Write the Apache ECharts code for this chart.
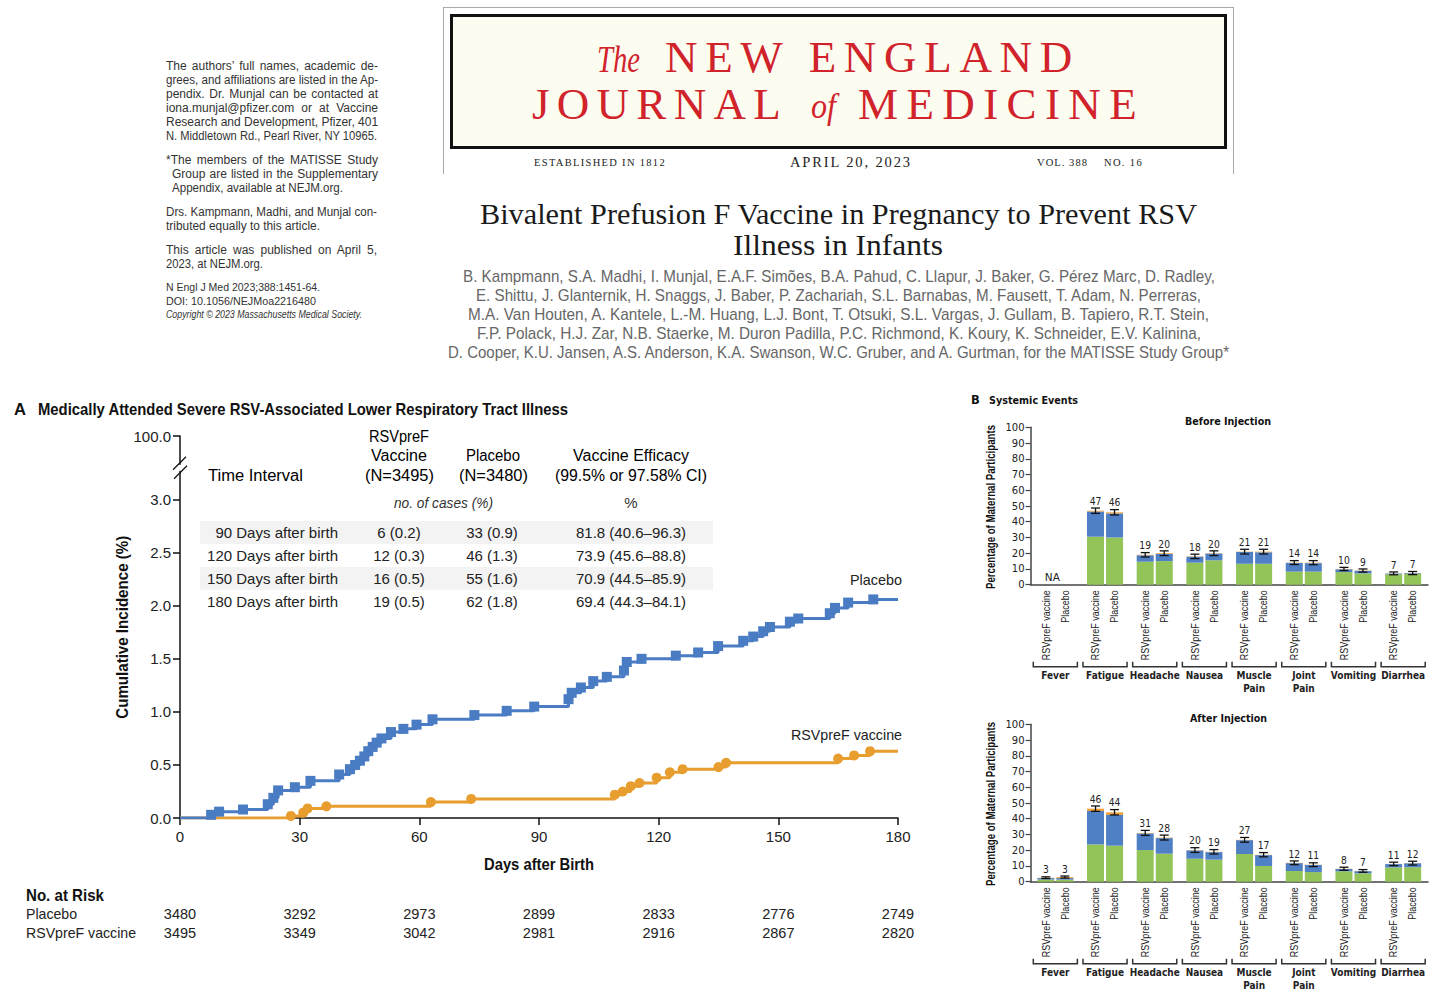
<!DOCTYPE html>
<html>
<head>
<meta charset="utf-8">
<title>RSVpreF vaccine in pregnancy – NEJM figure</title>
<script src="https://cdn.jsdelivr.net/npm/echarts@6.0.0/dist/echarts.min.js"></script>
<style>
html,body{margin:0;padding:0;background:#fff;}
body{width:1456px;height:1003px;position:relative;overflow:hidden;}
#chart{position:absolute;left:0;top:0;width:1456px;height:1003px;}
#overlay{position:absolute;left:0;top:0;width:1456px;height:1003px;pointer-events:none;}
.t{position:absolute;white-space:nowrap;line-height:1;}
.box{position:absolute;box-sizing:border-box;}
</style>
</head>
<body>
<div id="chart"></div>
<div id="overlay"></div>
<script>
// ================= DATA =================
// Panel A – Kaplan–Meier cumulative incidence (%) of severe MA-LRTI
const placeboDays = [0, 7.8, 9.8, 15.8, 22.0, 23.4, 24.6, 28.8, 32.7, 39.9, 42.6, 43.9, 45.1, 46.2, 47.2, 48.3, 49.3, 50.5, 52.9, 56.0, 59.3, 63.3, 73.8, 81.9, 88.8, 97.4, 98.2, 100.5, 103.6, 107.0, 111.3, 112.0, 115.7, 124.3, 129.9, 134.9, 141.2, 143.7, 146.2, 147.9, 152.9, 155.0, 162.9, 164.2, 167.5, 173.8, 180];
const placeboIncidence = [0, 0.03, 0.06, 0.08, 0.13, 0.19, 0.26, 0.29, 0.35, 0.41, 0.46, 0.50, 0.54, 0.58, 0.63, 0.67, 0.71, 0.75, 0.81, 0.84, 0.88, 0.93, 0.97, 1.01, 1.05, 1.12, 1.18, 1.23, 1.29, 1.33, 1.39, 1.47, 1.50, 1.53, 1.56, 1.62, 1.67, 1.71, 1.76, 1.80, 1.85, 1.88, 1.93, 1.98, 2.03, 2.06, 2.06];
const vaccineDays = [0, 27.8, 30.9, 32.0, 36.7, 62.9, 73.0, 109.0, 111.0, 113.0, 115.2, 119.5, 122.8, 126.0, 135.0, 136.9, 165.0, 169.0, 173.0, 180];
const vaccineIncidence = [0, 0.02, 0.05, 0.09, 0.11, 0.15, 0.18, 0.22, 0.25, 0.30, 0.33, 0.38, 0.43, 0.46, 0.48, 0.52, 0.56, 0.59, 0.63, 0.63];
const dayTicks = [0, 30, 60, 90, 120, 150, 180];
const incidenceTickValues = [0, 0.5, 1, 1.5, 2, 2.5, 3, 3.6];
const incidenceTickLabels = ['0.0', '0.5', '1.0', '1.5', '2.0', '2.5', '3.0', '100.0'];
const placeboAtRisk = [3480, 3292, 2973, 2899, 2833, 2776, 2749];
const vaccineAtRisk = [3495, 3349, 3042, 2981, 2916, 2867, 2820];
const tableIntervals = ['90 Days after birth', '120 Days after birth', '150 Days after birth', '180 Days after birth'];
const tableVaccineCases = ['6 (0.2)', '12 (0.3)', '16 (0.5)', '19 (0.5)'];
const tablePlaceboCases = ['33 (0.9)', '46 (1.3)', '55 (1.6)', '62 (1.8)'];
const tableEfficacy = ['81.8 (40.6–96.3)', '73.9 (45.6–88.8)', '70.9 (44.5–85.9)', '69.4 (44.3–84.1)'];

// Panel B – systemic events (% of maternal participants), mild / moderate / severe
const symptomGroups = ['Fever', 'Fatigue', 'Headache', 'Nausea', 'Muscle\nPain', 'Joint\nPain', 'Vomiting', 'Diarrhea'];
const armLabels = ['RSVpreF vaccine', 'Placebo'];
const beforeVaccineMild = [null, 30.5, 14.6, 14.0, 13.3, 8.3, 8.0, 6.6];
const beforeVaccineModerate = [null, 16.0, 4.1, 3.8, 7.5, 5.5, 1.8, 0.5];
const beforeVaccineSevere = [null, 0.5, 0.3, 0.2, 0.2, 0.2, 0.2, 0.1];
const beforePlaceboMild = [null, 30.0, 15.0, 15.5, 13.3, 8.3, 7.2, 6.8];
const beforePlaceboModerate = [null, 15.3, 4.5, 4.3, 7.3, 5.4, 1.6, 0.5];
const beforePlaceboSevere = [null, 0.7, 0.5, 0.2, 0.4, 0.3, 0.2, 0.1];
const beforeVaccineTotal = [null, 47, 19, 18, 21, 14, 10, 7];
const beforePlaceboTotal = [null, 46, 20, 20, 21, 14, 9, 7];
const beforeVaccineCI = [null, [45.3, 48.7], [17.6, 20.4], [16.6, 19.4], [19.5, 22.5], [12.8, 15.3], [9.0, 11.0], [6.3, 8.1]];
const beforePlaceboCI = [null, [44.3, 47.7], [18.5, 21.5], [18.5, 21.5], [19.5, 22.5], [12.7, 15.3], [8.0, 10.0], [6.4, 8.4]];

const afterVaccineMild = [1.4, 23.7, 20.1, 14.6, 17.6, 6.8, 6.6, 9.1];
const afterVaccineModerate = [0.9, 21.2, 10.6, 5.3, 8.8, 5.0, 1.5, 2.1];
const afterVaccineSevere = [0.2, 1.5, 0.3, 0.2, 0.2, 0.2, 0.1, 0.1];
const afterPlaceboMild = [1.3, 22.9, 17.8, 14.0, 10.0, 6.1, 5.3, 9.2];
const afterPlaceboModerate = [1.0, 19.5, 9.9, 4.8, 6.9, 4.5, 1.4, 2.5];
const afterPlaceboSevere = [0.6, 1.7, 0.3, 0.2, 0.2, 0.2, 0.1, 0.1];
const afterVaccineTotal = [3, 46, 31, 20, 27, 12, 8, 11];
const afterPlaceboTotal = [3, 44, 28, 19, 17, 11, 7, 12];
const afterVaccineCI = [[2.0, 3.1], [44.7, 48.1], [29.4, 32.6], [18.6, 21.6], [25.1, 28.1], [10.8, 13.2], [7.2, 9.2], [10.2, 12.4]];
const afterPlaceboCI = [[2.3, 3.6], [42.4, 45.8], [26.5, 29.6], [17.6, 20.4], [15.8, 18.5], [9.6, 12.0], [6.0, 7.7], [10.6, 13.0]];

// ================= STYLE =================
const SANS = '"Liberation Sans", Arial, sans-serif';
const SERIF = '"Liberation Serif", "Times New Roman", serif';
const DEJA = '"DejaVu Sans", Verdana, sans-serif';
const RED = '#d1232b';
const LINE_BLUE = '#4a7cc4';
const LINE_ORANGE = '#e89d2f';
const BAR_GREEN = '#92c457';
const BAR_BLUE = '#4f7fc4';
const BAR_ORANGE = '#efa13a';

// ================= CHART =================
const chart = echarts.init(document.getElementById('chart'), null, { renderer: 'svg', width: 1456, height: 1003 });

function kmData(days, inc) {
  return days.map((d, i) => {
    const item = { value: [d, inc[i]] };
    if (i === 0 || i === days.length - 1) item.symbol = 'none';
    return item;
  });
}

function barStack(grid, key, mild, moderate, severe) {
  const mk = (vals, color) => ({
    type: 'bar', xAxisIndex: grid, yAxisIndex: grid, stack: key, data: vals,
    barWidth: 17, barGap: '12%', itemStyle: { color }, silent: true
  });
  return [mk(mild, BAR_GREEN), mk(moderate, BAR_BLUE), mk(severe, BAR_ORANGE)];
}

function errorSeries(grid, vTot, pTot, vCI, pCI) {
  const data = [];
  symptomGroups.forEach((g, i) => {
    if (vTot[i] == null) data.push([i, 0, 0, 'NA', -1]);
    else data.push([i, vCI[i][0], vCI[i][1], String(vTot[i]), -1]);
    if (pTot[i] != null) data.push([i, pCI[i][0], pCI[i][1], String(pTot[i]), 1]);
  });
  return {
    type: 'custom', xAxisIndex: grid, yAxisIndex: grid, clip: false, silent: true, z: 10,
    encode: { x: 0, y: [1, 2] },
    data: data.map(d => [d[0], d[1], d[2]]),
    renderItem(params, api) {
      const it = data[params.dataIndex];
      const base = api.coord([it[0], 0]);
      const x = base[0] + it[4] * 9.5;
      if (it[3] === 'NA') {
        return { type: 'text', x: base[0] - 3, y: base[1] - 2,
          style: { text: 'NA', align: 'center', verticalAlign: 'bottom', fontSize: 10.5, fontFamily: DEJA, fill: '#222' } };
      }
      const yLo = api.coord([it[0], it[1]])[1];
      const yHi = api.coord([it[0], it[2]])[1];
      const st = { stroke: '#111', lineWidth: 1.3 };
      return { type: 'group', children: [
        { type: 'line', shape: { x1: x, y1: yLo, x2: x, y2: yHi }, style: st },
        { type: 'line', shape: { x1: x - 4.5, y1: yLo, x2: x + 4.5, y2: yLo }, style: st },
        { type: 'line', shape: { x1: x - 4.5, y1: yHi, x2: x + 4.5, y2: yHi }, style: st },
        { type: 'text', x: x, y: yHi - 2, scaleX: 0.92,
          style: { text: it[3], align: 'center', verticalAlign: 'bottom', fontSize: 10, fontFamily: DEJA, fill: '#222' } }
      ] };
    }
  };
}

function decoSeries(grid) {
  return {
    type: 'custom', xAxisIndex: grid, yAxisIndex: grid, clip: false, silent: true, z: 10,
    encode: { x: 0, y: 1 },
    data: symptomGroups.map((g, i) => [i, 0]),
    renderItem(params, api) {
      const i = params.dataIndex;
      const p = api.coord([i, 0]);
      const bw = api.size([1, 0])[0];
      const cx = p[0], y0 = p[1];
      const ch = [];
      armLabels.forEach((lab, k) => {
        ch.push({ type: 'text', x: cx + (k ? 9.5 : -9.5), y: y0 + 5.5, rotation: Math.PI / 2, scaleX: 0.82,
          style: { text: lab, align: 'right', verticalAlign: 'middle', fontSize: 11, fontFamily: SANS, fill: '#222' } });
      });
      const l = cx - bw / 2 + 2.8, r = cx + bw / 2 - 2.8;
      ch.push({ type: 'polyline', shape: { points: [[l, y0 + 77], [l, y0 + 82], [r, y0 + 82], [r, y0 + 77]] },
        style: { stroke: '#333', lineWidth: 1.5, fill: null } });
      ch.push({ type: 'text', x: cx, y: y0 + 84.5, scaleX: 0.9,
        style: { text: symptomGroups[i], align: 'center', verticalAlign: 'top', fontSize: 10, fontWeight: 'bold',
          fontFamily: DEJA, fill: '#222', lineHeight: 12.5 } });
      return { type: 'group', children: ch };
    }
  };
}

const axisBlack = { color: '#111', width: 1.5 };
const bX = (g) => ({ gridIndex: g, type: 'category', data: symptomGroups,
  axisLine: { show: true, lineStyle: { color: '#444', width: 1.5 } }, axisTick: { show: false }, axisLabel: { show: false }, splitLine: { show: false } });
const bY = (g) => ({ gridIndex: g, type: 'value', min: 0, max: 100, interval: 10,
  axisLine: { show: true, lineStyle: { color: '#444', width: 1.5 } },
  axisTick: { show: true, length: 5, lineStyle: { color: '#444', width: 1.2 } },
  axisLabel: { margin: 6, fontSize: 10, color: '#222', fontFamily: DEJA }, splitLine: { show: false } });

const option = {
  animation: false,
  grid: [
    { left: 180, top: 436, width: 718, height: 382, outerBoundsMode: 'none', containLabel: false },
    { left: 1030.5, top: 427.3, width: 397.5, height: 157.4, outerBoundsMode: 'none', containLabel: false },
    { left: 1030.5, top: 724.3, width: 397.5, height: 157.4, outerBoundsMode: 'none', containLabel: false }
  ],
  xAxis: [
    { gridIndex: 0, type: 'value', min: 0, max: 180, interval: 30,
      axisLine: { show: true, onZero: false, lineStyle: axisBlack },
      axisTick: { show: true, length: 7, lineStyle: axisBlack },
      axisLabel: { margin: 11, fontSize: 15, color: '#222', fontFamily: SANS },
      splitLine: { show: false } },
    bX(1), bX(2)
  ],
  yAxis: [
    { gridIndex: 0, type: 'value', min: 0, max: 3.6,
      axisLine: { show: true, lineStyle: axisBlack },
      axisTick: { show: true, length: 7, lineStyle: axisBlack, customValues: incidenceTickValues },
      axisLabel: { margin: 9, fontSize: 15, color: '#222', fontFamily: SANS, customValues: incidenceTickValues,
        formatter: (v) => { const k = incidenceTickValues.findIndex(t => Math.abs(t - v) < 1e-6); return k >= 0 ? incidenceTickLabels[k] : ''; } },
      splitLine: { show: false } },
    bY(1), bY(2)
  ],
  series: [
    { type: 'line', name: 'RSVpreF vaccine', xAxisIndex: 0, yAxisIndex: 0, step: 'end', data: kmData(vaccineDays, vaccineIncidence),
      symbol: 'circle', symbolSize: 10, showAllSymbol: true, lineStyle: { color: LINE_ORANGE, width: 3 }, itemStyle: { color: LINE_ORANGE }, z: 3, silent: true },
    { type: 'line', name: 'Placebo', xAxisIndex: 0, yAxisIndex: 0, step: 'end', data: kmData(placeboDays, placeboIncidence),
      symbol: 'rect', symbolSize: 10, showAllSymbol: true, lineStyle: { color: LINE_BLUE, width: 3 }, itemStyle: { color: LINE_BLUE }, z: 4, silent: true },
    ...barStack(1, 'bv', beforeVaccineMild, beforeVaccineModerate, beforeVaccineSevere),
    ...barStack(1, 'bp', beforePlaceboMild, beforePlaceboModerate, beforePlaceboSevere),
    ...barStack(2, 'av', afterVaccineMild, afterVaccineModerate, afterVaccineSevere),
    ...barStack(2, 'ap', afterPlaceboMild, afterPlaceboModerate, afterPlaceboSevere),
    errorSeries(1, beforeVaccineTotal, beforePlaceboTotal, beforeVaccineCI, beforePlaceboCI),
    errorSeries(2, afterVaccineTotal, afterPlaceboTotal, afterVaccineCI, afterPlaceboCI),
    decoSeries(1), decoSeries(2)
  ]
};
chart.setOption(option);

// axis break marks on the incidence axis
const pb = chart.convertToPixel({ xAxisIndex: 0, yAxisIndex: 0 }, [0, 3.3]);
chart.setOption({ graphic: [
  { type: 'rect', shape: { x: pb[0] - 4, y: pb[1] - 3, width: 8, height: 6 }, style: { fill: '#fff' }, z: 100 },
  { type: 'line', shape: { x1: pb[0] - 7, y1: pb[1] + 2, x2: pb[0] + 6, y2: pb[1] - 11 }, style: { stroke: '#111', lineWidth: 1.3 }, z: 101 },
  { type: 'line', shape: { x1: pb[0] - 6, y1: pb[1] + 11, x2: pb[0] + 7, y2: pb[1] - 2 }, style: { stroke: '#111', lineWidth: 1.3 }, z: 101 }
] });

// ================= TEXT OVERLAY =================
const overlay = document.getElementById('overlay');
function box(x, y, w, h, css) {
  const d = document.createElement('div');
  d.className = 'box';
  d.style.cssText = `left:${x}px;top:${y}px;width:${w}px;height:${h}px;` + css;
  overlay.appendChild(d);
}
function put(html, x, y, o = {}) {
  const d = document.createElement('div');
  d.className = 't';
  d.innerHTML = html;
  const s = d.style;
  s.fontSize = (o.size || 14) + 'px';
  s.fontFamily = o.font || SANS;
  s.fontWeight = o.weight || 'normal';
  s.fontStyle = o.italic ? 'italic' : 'normal';
  s.color = o.color || '#222';
  overlay.appendChild(d);
  let w = d.getBoundingClientRect().width;
  const h = d.getBoundingClientRect().height;
  let sx = 1;
  if (o.w) {
    const txt = d.textContent;
    const spaces = (txt.match(/ /g) || []).length;
    if (o.mode === 'ls') {
      s.letterSpacing = ((o.w - w) / txt.length) + 'px';
      w = d.getBoundingClientRect().width; sx = o.w / w;
    } else if (o.mode === 'justify' && w < o.w && spaces) {
      s.wordSpacing = ((o.w - w) / spaces) + 'px';
      w = d.getBoundingClientRect().width; sx = o.w / w;
    } else sx = o.w / w;
  }
  if (o.rot) {
    s.left = (x - w / 2) + 'px'; s.top = (y - h / 2) + 'px';
    s.transformOrigin = '50% 50%';
    s.transform = `rotate(-90deg) scaleX(${sx})`;
    return d;
  }
  const vw = w * sx, al = o.align || 'left';
  s.left = (al === 'left' ? x : al === 'center' ? x - vw / 2 : x - vw) + 'px';
  s.top = (y - h / 2) + 'px';
  if (Math.abs(sx - 1) > 0.002) { s.transformOrigin = '0 50%'; s.transform = `scaleX(${sx})`; }
  return d;
}

// --- left note block
const noteLines = [
  ['The authors’ full names, academic de-', 166, 66, 212, 'justify'],
  ['grees, and affiliations are listed in the Ap-', 166, 80, 212, 'justify'],
  ['pendix. Dr. Munjal can be contacted at', 166, 94, 212, 'justify'],
  ['iona.munjal@pfizer.com or at Vaccine', 166, 108, 212, 'justify'],
  ['Research and Development, Pfizer, 401', 166, 122, 212, 'justify'],
  ['N. Middletown Rd., Pearl River, NY 10965.', 166, 136, 211, 'justify'],
  ['*The members of the MATISSE Study', 166, 160, 212, 'justify'],
  ['Group are listed in the Supplementary', 172, 174, 206, 'justify'],
  ['Appendix, available at NEJM.org.', 172, 188, 171, ''],
  ['Drs. Kampmann, Madhi, and Munjal con-', 166, 212, 211, 'justify'],
  ['tributed equally to this article.', 166, 226, 154, ''],
  ['This article was published on April 5,', 166, 250, 211, 'justify'],
  ['2023, at NEJM.org.', 166, 264, 97, '']
];
noteLines.forEach(l => put(l[0], l[1], l[2], { size: 12, color: '#333', w: l[3], mode: l[4] }));
put('N Engl J Med 2023;388:1451-64.', 166, 287, { size: 11, color: '#333', w: 154 });
put('DOI: 10.1056/NEJMoa2216480', 166, 301, { size: 11, color: '#333', w: 150 });
put('Copyright © 2023 Massachusetts Medical Society.', 166, 315, { size: 10, color: '#333', italic: true, w: 196 });

// --- masthead
box(443, 7, 791, 167, 'border:1px solid #a9a9a9;border-bottom:none;');
box(450, 14, 777, 135, 'border:3px solid #111;background:#fdfcf0;');
put('The', 597, 59, { font: SERIF, size: 38, italic: true, color: RED, w: 43 });
put('NEW ENGLAND', 665, 57, { font: SERIF, size: 45, color: RED, w: 415, mode: 'ls' });
put('JOURNAL', 532, 104, { font: SERIF, size: 45, color: RED, w: 256, mode: 'ls' });
put('of', 811, 106, { font: SERIF, size: 36, italic: true, color: RED, w: 25 });
put('MEDICINE', 858, 104, { font: SERIF, size: 45, color: RED, w: 287, mode: 'ls' });
put('ESTABLISHED IN 1812', 534, 163, { font: SERIF, size: 10.5, color: '#222', w: 132, mode: 'ls' });
put('APRIL 20, 2023', 790, 162, { font: SERIF, size: 14.5, color: '#222', w: 122, mode: 'ls' });
put('VOL. 388', 1037, 163, { font: SERIF, size: 10.5, color: '#222', w: 51, mode: 'ls' });
put('NO. 16', 1104, 163, { font: SERIF, size: 10.5, color: '#222', w: 39, mode: 'ls' });

// --- article title & authors
put('Bivalent Prefusion F Vaccine in Pregnancy to Prevent RSV', 838.5, 214, { font: SERIF, size: 29, color: '#1a1a1a', w: 717, align: 'center' });
put('Illness in Infants', 838, 245, { font: SERIF, size: 29, color: '#1a1a1a', w: 210, align: 'center' });
const authorLines = [
  ['B. Kampmann, S.A. Madhi, I. Munjal, E.A.F. Simões, B.A. Pahud, C. Llapur, J. Baker, G. Pérez Marc, D. Radley,', 276, 752],
  ['E. Shittu, J. Glanternik, H. Snaggs, J. Baber, P. Zachariah, S.L. Barnabas, M. Fausett, T. Adam, N. Perreras,', 295, 725],
  ['M.A. Van Houten, A. Kantele, L.-M. Huang, L.J. Bont, T. Otsuki, S.L. Vargas, J. Gullam, B. Tapiero, R.T. Stein,', 314, 741],
  ['F.P. Polack, H.J. Zar, N.B. Staerke, M. Duron Padilla, P.C. Richmond, K. Koury, K. Schneider, E.V. Kalinina,', 333, 724],
  ['D. Cooper, K.U. Jansen, A.S. Anderson, K.A. Swanson, W.C. Gruber, and A. Gurtman, for the MATISSE Study Group*', 352, 781]
];
authorLines.forEach(l => put(l[0], 838.5, l[1], { size: 17, color: '#666', w: l[2], align: 'center' }));

// --- Panel A text
put('A', 14, 409, { size: 17, weight: 'bold', color: '#111', w: 12 });
put('Medically Attended Severe RSV-Associated Lower Respiratory Tract Illness', 38, 409, { size: 16.5, weight: 'bold', color: '#111', w: 530 });
put('Cumulative Incidence (%)', 122, 627, { size: 16.5, weight: 'bold', color: '#111', w: 183, rot: true });
put('Days after Birth', 539, 864, { size: 16.5, weight: 'bold', color: '#111', w: 110, align: 'center' });
// table
box(200, 521, 513, 23, 'background:#f3f3f3;');
box(200, 567, 513, 23, 'background:#f3f3f3;');
put('RSVpreF', 399, 437, { size: 16, color: '#000', align: 'center', w: 60 });
put('Vaccine', 399, 456, { size: 16, color: '#000', align: 'center', w: 56 });
put('(N=3495)', 399.5, 476, { size: 16, color: '#000', align: 'center', w: 69 });
put('Placebo', 493, 456, { size: 16, color: '#000', align: 'center', w: 54 });
put('(N=3480)', 493.5, 476, { size: 16, color: '#000', align: 'center', w: 69 });
put('Vaccine Efficacy', 631, 456, { size: 16, color: '#000', align: 'center', w: 116 });
put('(99.5% or 97.58% CI)', 631, 476, { size: 16, color: '#000', align: 'center', w: 152 });
put('Time Interval', 208, 476, { size: 16, color: '#000', w: 95 });
put('no. of cases (%)', 443.5, 502, { size: 15, color: '#333', italic: true, align: 'center', w: 99 });
put('%', 631, 502, { size: 15, color: '#333', align: 'center' });
const rowY = [532, 555, 578, 601];
tableIntervals.forEach((t, i) => {
  put(t, 338, rowY[i], { size: 15, color: '#222', align: 'right' });
  put(tableVaccineCases[i], 399, rowY[i], { size: 15, color: '#222', align: 'center' });
  put(tablePlaceboCases[i], 492, rowY[i], { size: 15, color: '#222', align: 'center' });
  put(tableEfficacy[i], 631, rowY[i], { size: 15, color: '#222', align: 'center', w: 110 });
});
put('Placebo', 902, 579, { size: 15, color: '#222', align: 'right', w: 52 });
put('RSVpreF vaccine', 902, 734, { size: 15, color: '#222', align: 'right', w: 111 });
// number at risk
put('No. at Risk', 26, 895, { size: 16.5, weight: 'bold', color: '#111', w: 78 });
put('Placebo', 26, 914, { size: 14.5, color: '#222', w: 51 });
put('RSVpreF vaccine', 26, 933, { size: 14.5, color: '#222', w: 110 });
dayTicks.forEach((d, i) => {
  const x = chart.convertToPixel({ xAxisIndex: 0 }, d);
  put(String(placeboAtRisk[i]), x, 914, { size: 14.5, color: '#222', align: 'center' });
  put(String(vaccineAtRisk[i]), x, 933, { size: 14.5, color: '#222', align: 'center' });
});

// --- Panel B text
put('B', 971, 401, { font: DEJA, size: 11.5, weight: 'bold', color: '#111' });
put('Systemic Events', 989, 401, { font: DEJA, size: 10, weight: 'bold', color: '#111', w: 89 });
put('Before Injection', 1228, 422, { font: DEJA, size: 10, weight: 'bold', color: '#111', align: 'center', w: 86 });
put('After Injection', 1228, 719, { font: DEJA, size: 10, weight: 'bold', color: '#111', align: 'center', w: 77 });
put('Percentage of Maternal Participants', 991, 507, { size: 12, weight: 'bold', color: '#111', w: 164, rot: true });
put('Percentage of Maternal Participants', 991, 804, { size: 12, weight: 'bold', color: '#111', w: 164, rot: true });
</script>
</body>
</html>
